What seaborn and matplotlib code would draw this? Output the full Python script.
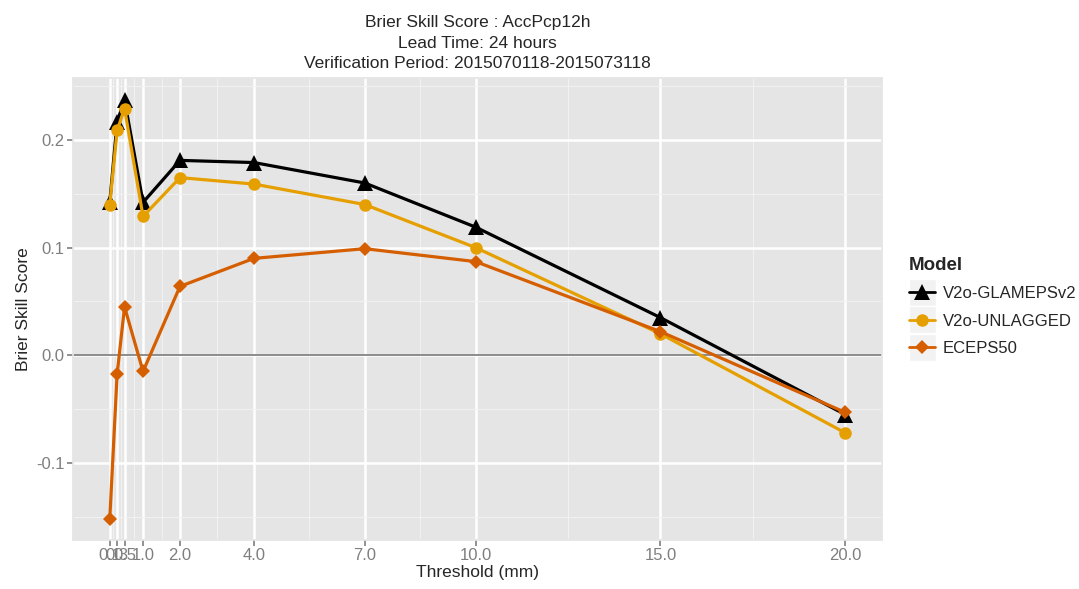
import numpy as np
import pandas as pd
import matplotlib
matplotlib.use("Agg")
import matplotlib.pyplot as plt
from matplotlib.patches import Rectangle
import seaborn as sns

# Precipitation thresholds (mm)
thresholds = [0.1, 0.3, 0.5, 1.0, 2.0, 4.0, 7.0, 10.0, 15.0, 20.0]
tick_labels = ["0.1", "0.3", "0.5", "1.0", "2.0", "4.0", "7.0", "10.0", "15.0", "20.0"]

models = ["V2o-GLAMEPSv2", "V2o-UNLAGGED", "ECEPS50"]
bss_glameps = [0.142, 0.217, 0.237, 0.142, 0.181, 0.179, 0.160, 0.119, 0.035, -0.055]
bss_unlagged = [0.140, 0.209, 0.229, 0.129, 0.165, 0.159, 0.140, 0.100, 0.020, -0.072]
bss_eceps = [-0.152, -0.017, 0.045, -0.015, 0.064, 0.090, 0.099, 0.087, 0.022, -0.053]

y_ticks = [-0.1, 0.0, 0.1, 0.2]

df = pd.DataFrame({
    "Threshold": thresholds * 3,
    "BSS": bss_glameps + bss_unlagged + bss_eceps,
    "Model": [m for m in models for _ in thresholds],
})

sns.set_theme(style="darkgrid", rc={
    "axes.facecolor": "#E5E5E5",
    "grid.color": "white",
    "axes.edgecolor": "#E5E5E5",
})
plt.rcParams["font.family"] = ["Liberation Sans", "DejaVu Sans"]

palette = {"V2o-GLAMEPSv2": "black", "V2o-UNLAGGED": "#E69F00", "ECEPS50": "#D55E00"}
markers = {"V2o-GLAMEPSv2": "^", "V2o-UNLAGGED": "o", "ECEPS50": "D"}

fig = plt.figure(figsize=(10.79, 5.89), dpi=100)
ax = fig.add_axes([73 / 1079, 1 - 540 / 589, (882 - 73) / 1079, (540 - 78) / 589])

ax.axhline(0, color="#8C8C8C", lw=1.4, zorder=1)

sns.lineplot(data=df, x="Threshold", y="BSS", hue="Model", style="Model",
             palette=palette, markers=markers, dashes=False, lw=2.3,
             markersize=9, markeredgewidth=0, hue_order=models, style_order=models,
             ax=ax, zorder=3)

# adjust marker sizes per series
for line in ax.lines:
    m = line.get_marker()
    if m == "^":
        line.set_markersize(11)
    elif m == "D":
        line.set_markersize(7)

xr = max(thresholds) - min(thresholds)
ax.set_xlim(min(thresholds) - 0.05 * xr, max(thresholds) + 0.05 * xr)
ax.set_ylim(-0.1715, 0.2575)

ax.set_xticks(thresholds)
ax.set_xticklabels(tick_labels)
mids = [(a + b) / 2 for a, b in zip(thresholds[:-1], thresholds[1:])]
ax.set_xticks(mids, minor=True)
ax.set_yticks(y_ticks)
ax.set_yticklabels([f"{v:.1f}" for v in y_ticks])
ax.set_yticks([-0.15, -0.05, 0.05, 0.15, 0.25], minor=True)

ax.grid(which="major", color="white", lw=1.8)
ax.grid(which="minor", color="#F2F2F2", lw=0.7)
ax.set_axisbelow(True)

ax.tick_params(axis="both", which="major", length=4, width=1.2, color="#7F7F7F",
               labelcolor="#7F7F7F", labelsize=12, pad=2, bottom=True, left=True)
ax.tick_params(axis="both", which="minor", length=0)

ax.set_xlabel("Threshold (mm)", fontsize=12.5, labelpad=1)
ax.set_ylabel("Brier Skill Score", fontsize=12.5, labelpad=4)
ax.set_title("Brier Skill Score : AccPcp12h\nLead Time: 24 hours\n"
             "Verification Period: 2015070118-2015073118",
             fontsize=12.5, linespacing=1.45, pad=7)

handles, labels = ax.get_legend_handles_labels()
ax.get_legend().remove()
for h in handles:
    h.set_linewidth(2.0)
leg = fig.legend(handles, labels, title="Model", loc="upper left",
                 bbox_to_anchor=(902 / 1079, 1 - 250 / 589), frameon=False,
                 fontsize=12, title_fontsize=13.5, handlelength=1.6,
                 handletextpad=0.45, labelspacing=0.75, borderaxespad=0)
leg.get_title().set_fontweight("bold")
leg._legend_box.align = "left"

# grey key boxes behind the legend symbols
fig.canvas.draw()
for h in leg.legend_handles:
    bb = h.get_window_extent()
    cx = (bb.x0 + bb.x1) / 2
    cy = (bb.y0 + bb.y1) / 2
    s = 27
    fig.patches.append(Rectangle((cx - s / 2, cy - s / 2), s, s,
                                 transform=None, facecolor="#F2F2F2",
                                 edgecolor="white", lw=1, zorder=0))

fig.savefig("out.png", dpi=100)
